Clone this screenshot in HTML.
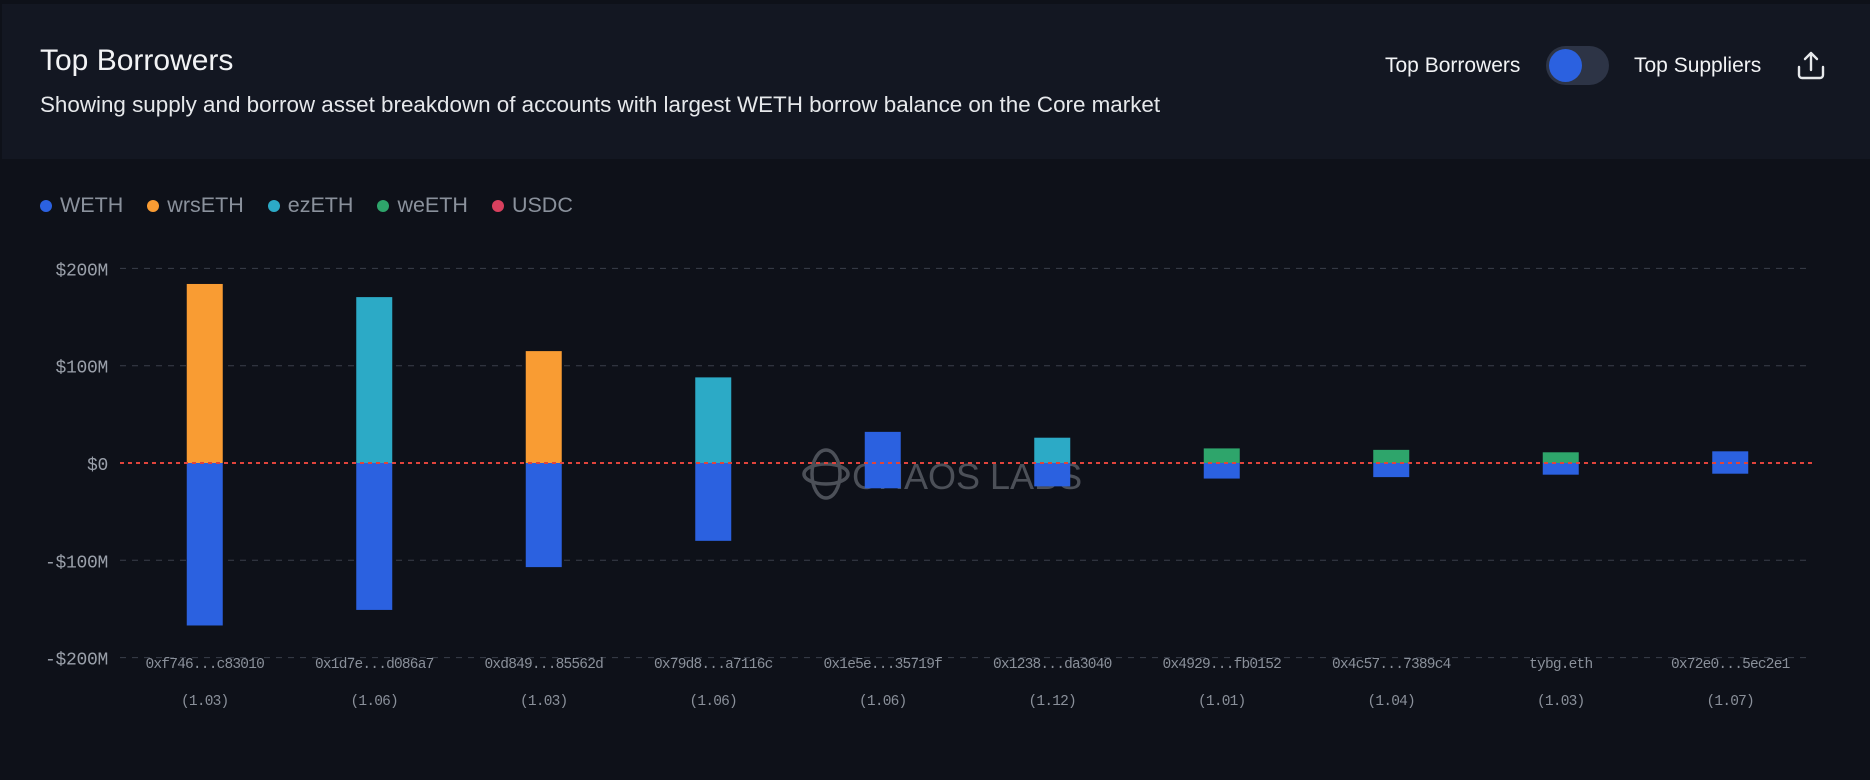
<!DOCTYPE html>
<html><head><meta charset="utf-8"><style>
*{margin:0;padding:0;box-sizing:border-box}
body{width:1870px;height:780px;background:#0e1119;font-family:"Liberation Sans",sans-serif;position:relative;overflow:hidden}
.hdr{position:absolute;left:2px;top:4px;width:1868px;height:155px;background:#131722}
.t{position:absolute;color:#f2f3f5;white-space:nowrap}
.leg{position:absolute;top:193px;font-size:21.5px;color:#8a919c;display:flex;align-items:center}
.leg span.d{width:12px;height:12px;border-radius:50%;display:inline-block;margin-right:8px}
</style></head><body>
<div class="hdr"></div>
<div class="t" style="left:40px;top:44px;font-size:30px">Top Borrowers</div>
<div class="t" style="left:40px;top:92px;font-size:22.4px;color:#e6e8eb">Showing supply and borrow asset breakdown of accounts with largest WETH borrow balance on the Core market</div>
<div class="t" style="left:1385px;top:54px;font-size:21px">Top Borrowers</div>
<div style="position:absolute;left:1546px;top:46px;width:63px;height:39px;border-radius:20px;background:#2d3446"><div style="position:absolute;left:3px;top:3px;width:33px;height:33px;border-radius:50%;background:#2b61e0"></div></div>
<div class="t" style="left:1634px;top:54px;font-size:21px">Top Suppliers</div>
<svg style="position:absolute;left:1795px;top:50px" width="32" height="32" viewBox="0 0 32 32" fill="none" stroke="#e6e8eb" stroke-width="2.4" stroke-linecap="round" stroke-linejoin="round"><path d="M16 3v17M10 9l6-6 6 6M4 17v8a3 3 0 0 0 3 3h18a3 3 0 0 0 3-3v-8"/></svg>
<div class="leg" style="left:40px">
<span style="display:flex;align-items:center;margin-right:24px"><span class="d" style="background:#2b61e0"></span>WETH</span>
<span style="display:flex;align-items:center;margin-right:24px"><span class="d" style="background:#f99c33"></span>wrsETH</span>
<span style="display:flex;align-items:center;margin-right:24px"><span class="d" style="background:#2caac6"></span>ezETH</span>
<span style="display:flex;align-items:center;margin-right:24px"><span class="d" style="background:#2ea56b"></span>weETH</span>
<span style="display:flex;align-items:center"><span class="d" style="background:#d8405e"></span>USDC</span>
</div>
<svg id="chart" style="position:absolute;left:0;top:0" width="1870" height="780"></svg>
<script>
const categories=["0xf746...c83010","0x1d7e...d086a7","0xd849...85562d","0x79d8...a7116c","0x1e5e...35719f","0x1238...da3040","0x4929...fb0152","0x4c57...7389c4","tybg.eth","0x72e0...5ec2e1"];
const healthFactors=["(1.03)","(1.06)","(1.03)","(1.06)","(1.06)","(1.12)","(1.01)","(1.04)","(1.03)","(1.07)"];
const supplyValues=[184,170.5,115,88,32,26,15,13.5,11,12];
const supplyAssets=["wrsETH","ezETH","wrsETH","ezETH","WETH","ezETH","weETH","weETH","weETH","WETH"];
const borrowValues=[-167,-151,-107,-80,-26,-24,-16,-14.5,-12,-11];
const yTicks=[200,100,0,-100,-200];
const yTickLabels=["$200M","$100M","$0","-$100M","-$200M"];
const colors={WETH:"#2b61e0",wrsETH:"#f99c33",ezETH:"#2caac6",weETH:"#2ea56b",USDC:"#d8405e"};
const svg=document.getElementById('chart');
const NS="http://www.w3.org/2000/svg";
const X0=120,X1=1815,ZERO=463,PER100=97.3;
const y=v=>ZERO-v*PER100/100;
const band=(X1-X0)/categories.length;
const xc=i=>X0+band*(i+0.5);
function mk(tag,attrs,text){const e=document.createElementNS(NS,tag);for(const k in attrs)e.setAttribute(k,attrs[k]);if(text!==undefined)e.textContent=text;svg.appendChild(e);return e;}
yTicks.forEach((t,i)=>{
 if(t!==0){const g=mk('line',{x1:X0,x2:1808,y1:y(t),y2:y(t),stroke:'#3a3f4a','stroke-dasharray':'6 6','stroke-width':1});
 
 }
 const l=mk('text',{x:108,y:y(t)+7,'text-anchor':'end',fill:'#9aa0aa','font-size':18,'letter-spacing':-0.3,'font-family':'Liberation Mono, monospace'},yTickLabels[i]);
 
 
});
const wm=mk('g',{opacity:0.5});


const c1=document.createElementNS(NS,'ellipse');c1.setAttribute('cx',826);c1.setAttribute('cy',474);c1.setAttribute('rx',14);c1.setAttribute('ry',24);c1.setAttribute('fill','none');c1.setAttribute('stroke','#8a8f98');c1.setAttribute('stroke-width',3.5);wm.appendChild(c1);
const c2=document.createElementNS(NS,'ellipse');c2.setAttribute('cx',826);c2.setAttribute('cy',474);c2.setAttribute('rx',22);c2.setAttribute('ry',10);c2.setAttribute('fill','none');c2.setAttribute('stroke','#8a8f98');c2.setAttribute('stroke-width',3.5);wm.appendChild(c2);
const wt=document.createElementNS(NS,'text');wt.setAttribute('x',852);wt.setAttribute('y',489);wt.setAttribute('fill','#8a8f98');wt.setAttribute('font-size',36);wt.setAttribute('font-family','Liberation Sans, sans-serif');wt.textContent='CHAOS LABS';wm.appendChild(wt);
const BW=36;
categories.forEach((c,i)=>{
 const s=mk('rect',{x:xc(i)-BW/2,y:y(supplyValues[i]),width:BW,height:y(0)-y(supplyValues[i]),fill:colors[supplyAssets[i]]});
 
 
 const b=mk('rect',{x:xc(i)-BW/2,y:y(0),width:BW,height:y(borrowValues[i])-y(0),fill:colors.WETH});
 
 
 const l=mk('text',{x:xc(i),y:668,'text-anchor':'middle',fill:'#8a909a','font-size':14.5,'letter-spacing':-0.8,'font-family':'Liberation Mono, monospace'},c);
 
 
 const h=mk('text',{x:xc(i),y:705,'text-anchor':'middle',fill:'#8a909a','font-size':14.5,'letter-spacing':-0.8,'font-family':'Liberation Mono, monospace'},healthFactors[i]);
 
 
});
const z=mk('line',{x1:X0,x2:X1,y1:y(0),y2:y(0),stroke:'#e0443c','stroke-width':2,'stroke-dasharray':'4 4'});


</script>
</body></html>
